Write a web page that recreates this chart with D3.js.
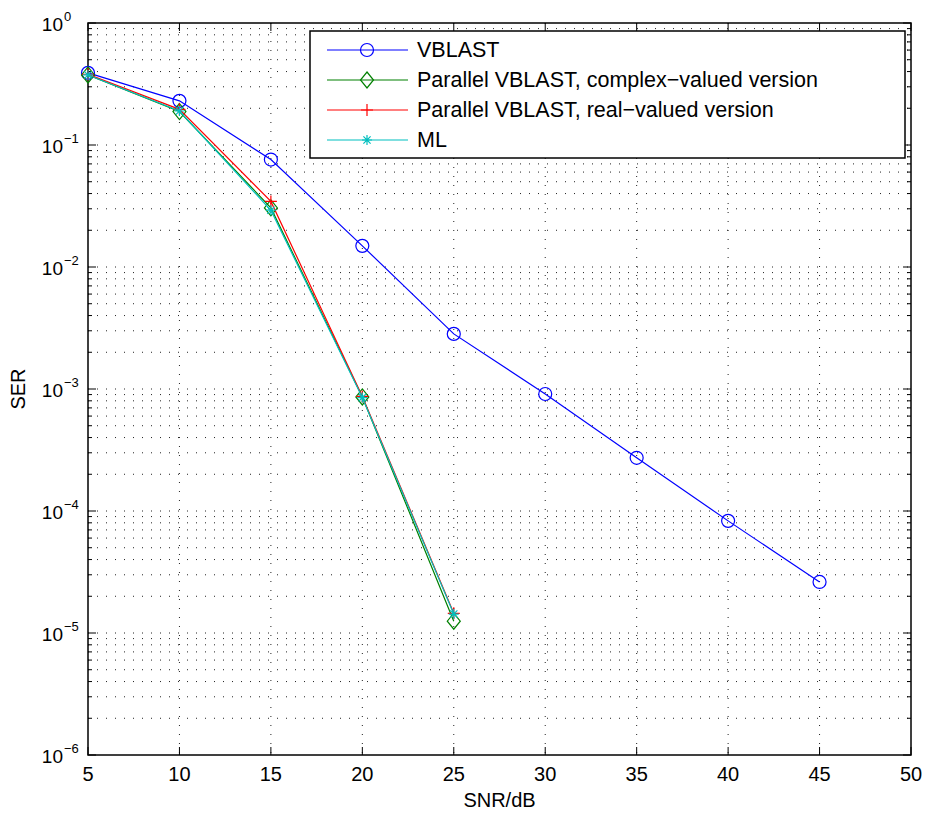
<!DOCTYPE html>
<html>
<head>
<meta charset="utf-8">
<script src="https://cdn.jsdelivr.net/npm/d3@7"></script>
<style>
  body { margin: 0; background: #fff; }
  text { font-family: "Liberation Sans", Arial, sans-serif; fill: #000; }
</style>
</head>
<body>
<div id="chart"></div>
<script>
// data
var snr = [5, 10, 15, 20, 25, 30, 35, 40, 45];
var vblast = [0.39, 0.23, 0.076, 0.0149, 0.00283, 0.00091, 0.000273, 0.0000830, 0.0000262];
var snrShort = [5, 10, 15, 20, 25];
var parComplex = [0.375, 0.188, 0.0305, 0.00086, 0.0000125];
var parReal = [0.38, 0.196, 0.0345, 0.00087, 0.0000145];
var ml = [0.375, 0.19, 0.0292, 0.00085, 0.0000143];
var seriesNames = ["VBLAST", "Parallel VBLAST, complex\u2212valued version", "Parallel VBLAST, real\u2212valued version", "ML"];
var seriesColors = ["#0000ff", "#008000", "#ff0000", "#00bfbf"];
var seriesMarkers = ["circle", "diamond", "plus", "star"];
var xTicks = [5, 10, 15, 20, 25, 30, 35, 40, 45, 50];
var yExponents = [0, -1, -2, -3, -4, -5, -6];

var svgWidth = 930, svgHeight = 813;
var margin = { top: 23, left: 88, right: 19, bottom: 58 };
var width = svgWidth - margin.left - margin.right;
var height = svgHeight - margin.top - margin.bottom;

var svg = d3.select("#chart").append("svg")
  .attr("width", svgWidth)
  .attr("height", svgHeight);

var chartGroup = svg.append("g")
  .attr("transform", `translate(${margin.left}, ${margin.top})`);

var xScale = d3.scaleLinear().domain([5, 50]).range([0, width]);
var yScale = d3.scaleLog().domain([1e-6, 1]).range([height, 0]);

// minor log values
var minorVals = [];
yExponents.forEach(function(e) {
  if (e === 0) return;
  for (var k = 2; k <= 9; k++) minorVals.push(k * Math.pow(10, e));
});

// grid
var grid = chartGroup.append("g")
  .attr("stroke", "#222")
  .attr("stroke-width", 1)
  .attr("stroke-dasharray", "1,8");

grid.selectAll(".gx").data(xTicks.slice(1, -1)).enter().append("line")
  .attr("x1", d => xScale(d)).attr("x2", d => xScale(d))
  .attr("y1", 0).attr("y2", height);

grid.selectAll(".gy").data(yExponents.slice(1, -1).map(e => Math.pow(10, e)).concat(minorVals))
  .enter().append("line")
  .attr("x1", 0).attr("x2", width)
  .attr("y1", d => yScale(d)).attr("y2", d => yScale(d));

// ticks (inside, all four sides)
var ticks = chartGroup.append("g").attr("stroke", "#000").attr("stroke-width", 1);
xTicks.forEach(function(t) {
  var x = xScale(t);
  ticks.append("line").attr("x1", x).attr("x2", x).attr("y1", height).attr("y2", height - 8);
  ticks.append("line").attr("x1", x).attr("x2", x).attr("y1", 0).attr("y2", 8);
});
yExponents.forEach(function(e) {
  var y = yScale(Math.pow(10, e));
  ticks.append("line").attr("x1", 0).attr("x2", 8).attr("y1", y).attr("y2", y);
  ticks.append("line").attr("x1", width).attr("x2", width - 8).attr("y1", y).attr("y2", y);
});
minorVals.forEach(function(v) {
  var y = yScale(v);
  ticks.append("line").attr("x1", 0).attr("x2", 4).attr("y1", y).attr("y2", y);
  ticks.append("line").attr("x1", width).attr("x2", width - 4).attr("y1", y).attr("y2", y);
});

// frame
chartGroup.append("rect")
  .attr("width", width).attr("height", height)
  .attr("fill", "none").attr("stroke", "#000").attr("stroke-width", 1.5);

// tick labels
chartGroup.selectAll(".xl").data(xTicks).enter().append("text")
  .attr("x", d => xScale(d))
  .attr("y", height + 26)
  .attr("text-anchor", "middle")
  .attr("font-size", 20)
  .text(d => d);

yExponents.forEach(function(e) {
  var y = yScale(Math.pow(10, e));
  chartGroup.append("text")
    .attr("x", -25).attr("y", y + 8)
    .attr("text-anchor", "end")
    .attr("font-size", 19)
    .text("10");
  chartGroup.append("text")
    .attr("x", -24).attr("y", y - 2)
    .attr("font-size", 13)
    .text(e === 0 ? "0" : "\u2212" + (-e));
});

// axis titles
svg.append("text")
  .attr("x", margin.left + width / 2).attr("y", 807)
  .attr("text-anchor", "middle")
  .attr("font-size", 20)
  .text("SNR/dB");

svg.append("text")
  .attr("transform", `translate(25, ${margin.top + yScale(1e-3)}) rotate(-90)`)
  .attr("text-anchor", "middle")
  .attr("font-size", 20)
  .text("SER");

// markers
function drawMarker(g, type, color) {
  if (type === "circle") {
    g.append("circle").attr("r", 6.5).attr("fill", "none").attr("stroke", color);
  } else if (type === "diamond") {
    g.append("path").attr("d", "M0,-8L6.5,0L0,8L-6.5,0Z").attr("fill", "none").attr("stroke", color);
  } else if (type === "plus") {
    g.append("path").attr("d", "M-6,0H6M0,-6V6").attr("stroke", color);
  } else {
    g.append("path").attr("d", "M-5,0H5M0,-5V5M-3.6,-3.6L3.6,3.6M-3.6,3.6L3.6,-3.6").attr("stroke", color);
  }
}

var allSeries = [
  { xs: snr, ys: vblast },
  { xs: snrShort, ys: parComplex },
  { xs: snrShort, ys: parReal },
  { xs: snrShort, ys: ml }
];

var line = d3.line().x(d => xScale(d[0])).y(d => yScale(d[1]));

allSeries.forEach(function(s, i) {
  var pts = s.xs.map((x, j) => [x, s.ys[j]]);
  chartGroup.append("path")
    .datum(pts)
    .attr("d", line)
    .attr("fill", "none")
    .attr("stroke", seriesColors[i])
    .attr("stroke-width", 1.2);
  pts.forEach(function(p) {
    var g = chartGroup.append("g")
      .attr("transform", `translate(${xScale(p[0])}, ${yScale(p[1])})`)
      .attr("stroke-width", 1.2);
    drawMarker(g, seriesMarkers[i], seriesColors[i]);
  });
});

// legend
var legend = svg.append("g");
legend.append("rect")
  .attr("x", 310).attr("y", 31).attr("width", 595).attr("height", 127)
  .attr("fill", "#fff").attr("stroke", "#000").attr("stroke-width", 1.5);

seriesNames.forEach(function(name, i) {
  var y = 50 + i * 30;
  legend.append("line")
    .attr("x1", 327).attr("x2", 408).attr("y1", y).attr("y2", y)
    .attr("stroke", seriesColors[i]).attr("stroke-width", 1.2);
  var g = legend.append("g").attr("transform", `translate(367, ${y})`).attr("stroke-width", 1.2);
  drawMarker(g, seriesMarkers[i], seriesColors[i]);
  legend.append("text")
    .attr("x", 417).attr("y", y + 7)
    .attr("font-size", 21.5)
    .text(name);
});
</script>
</body>
</html>
